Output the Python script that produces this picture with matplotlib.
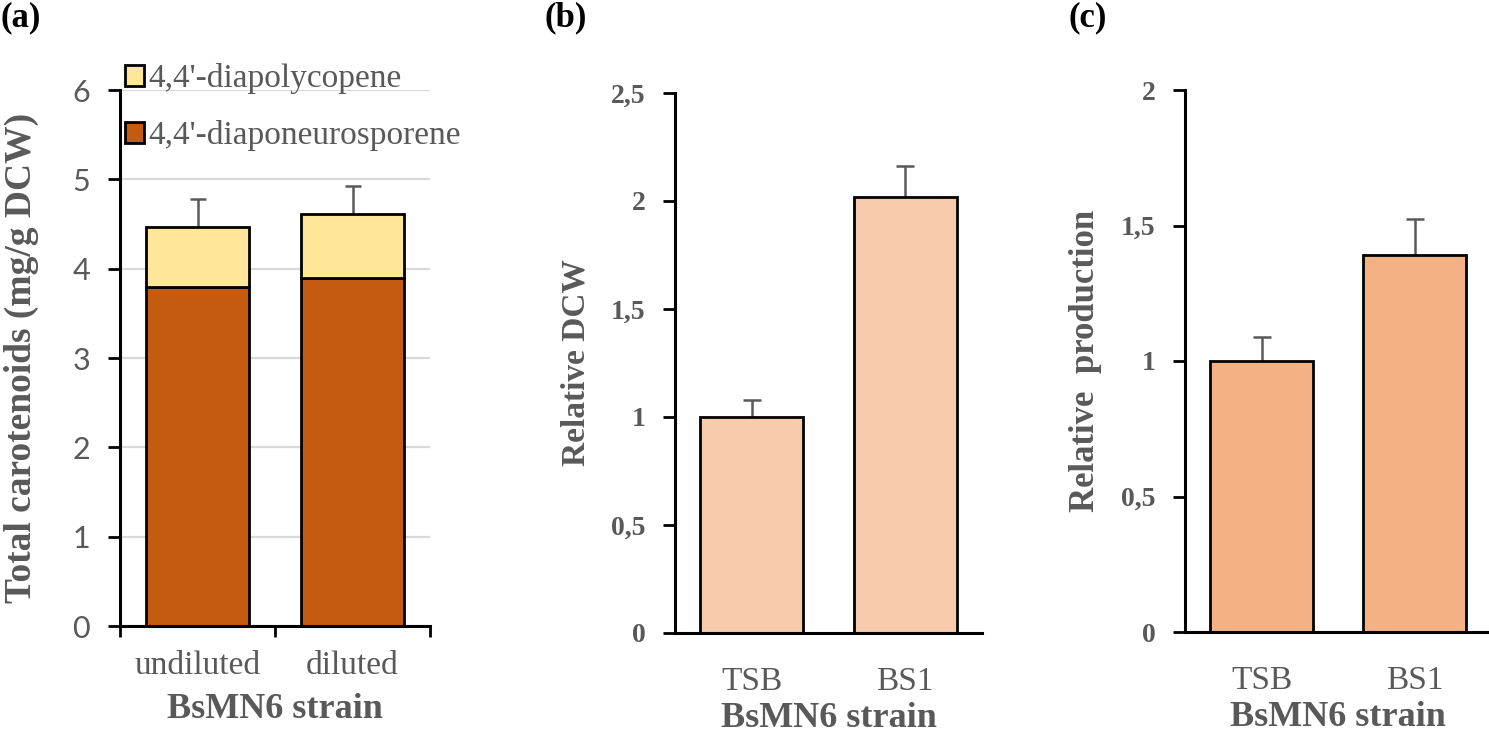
import numpy as np
import matplotlib
matplotlib.use("Agg")
import matplotlib.pyplot as plt
from matplotlib.patches import Patch

# panel (a): stacked carotenoid content
cond_a = ["undiluted", "diluted"]
neuro = [3.80, 3.90]
polyc = [0.67, 0.71]
err_a = [0.31, 0.31]
ticks_a = [0, 1, 2, 3, 4, 5, 6]

# panel (b): relative dry cell weight
cond_b = ["TSB", "BS1"]
dcw = [1.0, 2.02]
err_b = [0.08, 0.14]
ticks_b = [0, 0.5, 1, 1.5, 2, 2.5]
ticklab_b = ["0", "0,5", "1", "1,5", "2", "2,5"]

# panel (c): relative production
cond_c = ["TSB", "BS1"]
prod = [1.0, 1.39]
err_c = [0.09, 0.135]
ticks_c = [0, 0.5, 1, 1.5, 2]
ticklab_c = ["0", "0,5", "1", "1,5", "2"]

GRAY = "#595959"
SERIF = "Liberation Serif"
W, H = 1489, 736

fig = plt.figure(figsize=(W / 100, H / 100), dpi=100)


def px_axes(l, r, b, t):
    return fig.add_axes([l / W, (H - b) / H, (r - l) / W, (b - t) / H])


def style(ax):
    for s in ("top", "right"):
        ax.spines[s].set_visible(False)
    for s in ("left", "bottom"):
        ax.spines[s].set_linewidth(2.2)
        ax.spines[s].set_color("black")


def errs(ax, x, top, e, cap):
    eb = ax.errorbar(x, top, yerr=[np.zeros(len(e)), e], fmt="none",
                     ecolor=GRAY, elinewidth=1.8, capsize=cap, capthick=1.8,
                     zorder=1)
    eb[1][0].set_visible(False)


# ---- (a)
ax = px_axes(120, 430, 626, 90)
style(ax)
x = np.arange(len(cond_a))
top_a = np.array(neuro) + np.array(polyc)
ax.bar(x, neuro, width=0.67, color="#C55A11", edgecolor="black", lw=2, zorder=2)
ax.bar(x, polyc, bottom=neuro, width=0.67, color="#FFE699", edgecolor="black",
       lw=2, zorder=2)
errs(ax, x, top_a, err_a, 5.5)
ax.set_xlim(-0.5, 1.5)
ax.set_ylim(0, 6)
ax.set_yticks(ticks_a)
ax.grid(axis="y", color="#d9d9d9", lw=1.6, zorder=0)
ax.set_axisbelow(True)
ax.tick_params(axis="y", length=8.5, width=2, pad=13, labelsize=22, labelcolor=GRAY)
for t in ax.get_yticklabels():
    t.set_family("Lato")
ax.set_xticks([-0.5, 0.5, 1.5], minor=False)
ax.set_xticklabels([])
ax.tick_params(axis="x", length=8, width=2)
ax.set_xticks(x, minor=True)
ax.set_xticklabels(cond_a, minor=True, family=SERIF, fontsize=24, color=GRAY)
ax.tick_params(axis="x", which="minor", length=0, pad=18)
ax.set_ylabel("Total carotenoids (mg/g DCW)", family=SERIF, fontsize=27,
              weight="bold", color=GRAY, labelpad=24)
ax.set_xlabel("BsMN6 strain", family=SERIF, fontsize=26, weight="bold",
              color=GRAY, labelpad=8)
handles = [Patch(facecolor="#FFE699", edgecolor="black", lw=2),
           Patch(facecolor="#C55A11", edgecolor="black", lw=2)]
leg = ax.legend(handles, ["4,4'-diapolycopene", "4,4'-diaponeurosporene"],
                loc="upper left", bbox_to_anchor=(0.015, 1.05), frameon=False,
                borderpad=0, borderaxespad=0, handlelength=0.58,
                handleheight=0.58, handletextpad=0.12, labelspacing=0.78,
                prop={"family": SERIF, "size": 24})
for t in leg.get_texts():
    t.set_color(GRAY)


def simple_panel(l, r, b, t, cond, vals, e, ticks, labs, color, ylab, ymax, ysize):
    ax = px_axes(l, r, b, t)
    style(ax)
    x = np.arange(len(cond))
    ax.bar(x, vals, width=0.67, color=color, edgecolor="black", lw=2, zorder=2)
    errs(ax, x, vals, e, 6.5)
    ax.set_xlim(-0.5, 1.5)
    ax.set_ylim(0, ymax)
    ax.set_yticks(ticks)
    ax.set_yticklabels(labs, family=SERIF, weight="bold", fontsize=20, color=GRAY)
    ax.tick_params(axis="y", length=9, width=2, pad=12)
    ax.set_xticks(x)
    ax.set_xticklabels(cond, family=SERIF, fontsize=24, color=GRAY)
    ax.tick_params(axis="x", length=0, pad=24)
    ax.set_ylabel(ylab, family=SERIF, fontsize=ysize, weight="bold", color=GRAY,
                  labelpad=14)
    ax.set_xlabel("BsMN6 strain", family=SERIF, fontsize=26, weight="bold",
                  color=GRAY, labelpad=4)
    return ax


simple_panel(675, 982, 633, 93, cond_b, dcw, err_b, ticks_b, ticklab_b,
             "#F8CBAD", "Relative DCW", 2.5, 24)
simple_panel(1185, 1491, 632, 90, cond_c, prod, err_c, ticks_c, ticklab_c,
             "#F4B183", "Relative  production", 2.0, 25)

for lab, xp in (("(a)", 0), ("(b)", 545), ("(c)", 1068)):
    fig.text(xp / W, 1 - 1 / H, lab, family=SERIF, weight="bold", fontsize=25,
             va="top", ha="left", color="black")

fig.savefig("out.png", dpi=100)
